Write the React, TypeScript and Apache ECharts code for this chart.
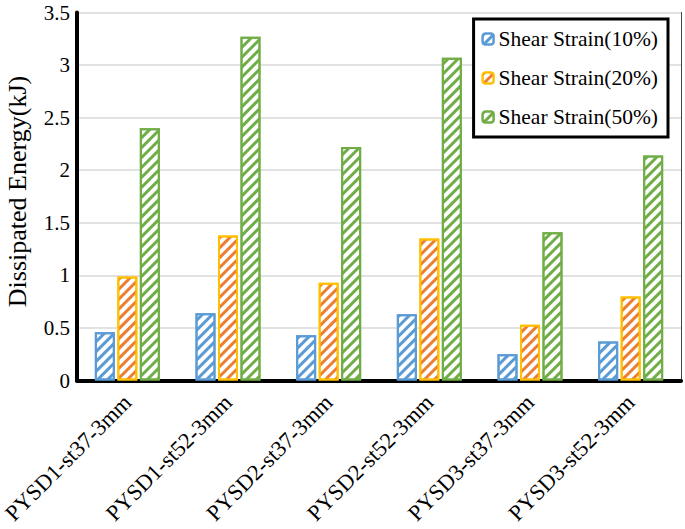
import React, { useEffect, useRef } from "react";
import * as echarts from "echarts";

const categories = [
  "PYSD1-st37-3mm",
  "PYSD1-st52-3mm",
  "PYSD2-st37-3mm",
  "PYSD2-st52-3mm",
  "PYSD3-st37-3mm",
  "PYSD3-st52-3mm",
];
const strain10 = [0.46, 0.64, 0.43, 0.63, 0.25, 0.37];
const strain20 = [0.99, 1.38, 0.93, 1.35, 0.53, 0.8];
const strain50 = [2.4, 3.27, 2.22, 3.07, 1.41, 2.14];
const seriesNames = ["Shear Strain(10%)", "Shear Strain(20%)", "Shear Strain(50%)"];
const yTicks = { min: 0, max: 3.5, interval: 0.5 };

const FONT = "Liberation Serif";

function hatched(border: string, stripe: string) {
  return {
    color: "#ffffff",
    borderColor: border,
    borderWidth: 2,
    decal: {
      symbol: "rect",
      symbolSize: 1,
      color: stripe,
      dashArrayX: [1, 0],
      dashArrayY: [3, 3.5],
      rotation: -Math.PI / 4,
    },
  };
}

export default function App() {
  const ref = useRef<HTMLDivElement>(null);
  useEffect(() => {
    if (!ref.current) return;
    const chart = echarts.init(ref.current, null, { renderer: "svg" });
    const styles = [
      hatched("#5B9BD5", "#5B9BD5"),
      hatched("#FFC000", "#ED7D31"),
      hatched("#70AD47", "#70AD47"),
    ];
    const data = [strain10, strain20, strain50];
    chart.setOption({
      animation: false,
      backgroundColor: "#ffffff",
      textStyle: { fontFamily: FONT },
      grid: {
        left: 77,
        right: 4,
        top: 12.5,
        bottom: 148.5,
        containLabel: false,
        outerBoundsMode: "none",
      },
      legend: {
        orient: "vertical",
        right: 17,
        top: 19,
        backgroundColor: "#ffffff",
        borderColor: "#000000",
        borderWidth: 3,
        padding: [8, 10, 8, 8],
        itemWidth: 11,
        itemHeight: 11,
        itemGap: 15,
        textStyle: { fontFamily: FONT, fontSize: 21.5, color: "#000", lineHeight: 24 },
        data: seriesNames,
      },
      xAxis: [
        {
          type: "category",
          data: categories,
          position: "bottom",
          axisLine: { lineStyle: { color: "#000", width: 4 } },
          axisTick: { show: false },
          axisLabel: {
            rotate: 45,
            margin: 18,
            fontFamily: FONT,
            fontSize: 22.5,
            color: "#000",
            interval: 0,
          },
        },
        {
          type: "category",
          data: categories,
          position: "top",
          axisLine: { lineStyle: { color: "#000", width: 3 } },
          axisTick: { show: false },
          axisLabel: { show: false },
        },
      ],
      yAxis: [
        {
          type: "value",
          min: yTicks.min,
          max: yTicks.max,
          interval: yTicks.interval,
          name: "Dissipated Energy(kJ)",
          nameLocation: "middle",
          nameGap: 47,
          nameTextStyle: { fontFamily: FONT, fontSize: 26, color: "#000", padding: [0, 0, 0, 10] },
          axisLine: { show: true, lineStyle: { color: "#000", width: 4 } },
          axisTick: { show: false },
          axisLabel: { fontFamily: FONT, fontSize: 21, color: "#000", margin: 7 },
          splitLine: { lineStyle: { color: "#D9D9D9", width: 1.5 } },
        },
        {
          type: "value",
          min: yTicks.min,
          max: yTicks.max,
          interval: yTicks.interval,
          position: "right",
          axisLine: { show: true, lineStyle: { color: "#444", width: 1 } },
          axisTick: { show: false },
          axisLabel: { show: false },
          splitLine: { show: false },
        },
      ],
      series: seriesNames.map((name, i) => ({
        name,
        type: "bar",
        data: data[i],
        barWidth: 20,
        barGap: "12.5%",
        itemStyle: styles[i],
        emphasis: { disabled: true },
      })),
    });
    return () => chart.dispose();
  }, []);
  return (
    <div
      ref={ref}
      style={{ position: "fixed", left: 0, top: 0, width: 685, height: 529 }}
    />
  );
}
